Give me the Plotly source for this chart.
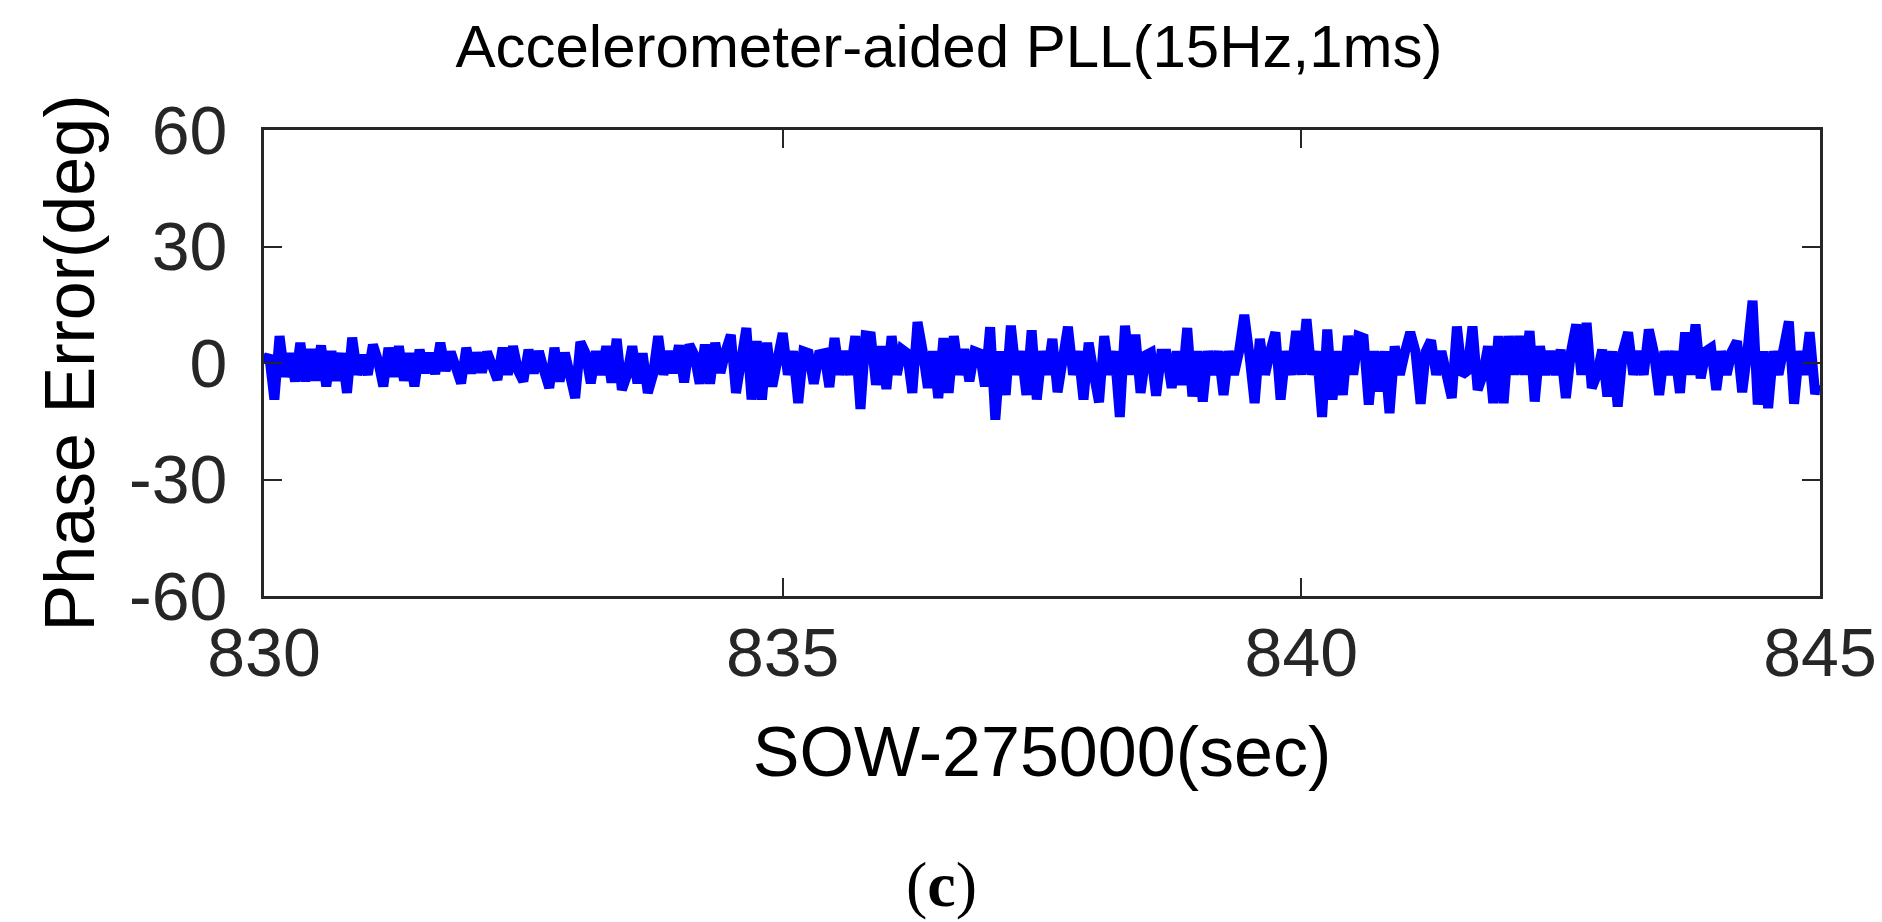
import plotly.graph_objects as go

# Phase error samples, one every 50 ms starting at 830 s
t_start = 830.0
t_step = 0.05
phase_err = [
    0.0, 2.0, -9.4, 6.9, -3.5, 2.5, -4.7, 5.2, -4.7, 3.5,
    -4.5, 4.5, -6.0, 3.0, -4.5, 2.5, -7.7, 6.5, -3.0, 2.0,
    -3.0, 4.7, 0.5, -6.0, 3.9, -3.5, 4.3, -4.5, 2.5, -6.0,
    3.4, -2.5, 2.5, -2.8, 5.2, -2.0, 2.8, -1.5, -5.2, 3.9,
    -2.6, 2.6, -2.4, 2.8, -1.0, -4.3, 3.9, -3.0, 4.3, -2.0,
    -4.7, 3.4, -2.6, 3.0, -2.0, -6.4, 3.9, -4.7, 2.6, -2.5,
    -9.0, 5.4, 2.5, -5.2, 3.0, -3.0, 4.3, -5.0, 6.2, -6.9,
    -3.0, 4.3, -5.2, 2.5, -7.7, -3.0, 6.9, -3.0, 3.0, -2.5,
    4.5, -5.0, 4.7, 2.0, -5.3, 4.7, -5.3, 5.2, -2.5, 3.0,
    7.2, -7.7, 3.0, 9.0, -9.4, 5.6, -9.4, 5.2, -6.0, 3.0,
    7.7, -3.0, 3.0, -10.3, 3.0, 2.5, -5.3, 2.2, 2.5, -6.2,
    6.4, -3.0, 3.0, -3.0, 6.9, -11.8, 7.1, 6.9, -5.6, 4.3,
    -6.7, 6.9, -3.0, 3.5, 2.5, -7.7, 10.5, 3.0, -6.4, 3.0,
    -9.0, 6.4, -7.7, 6.9, -3.0, 3.5, -4.7, 3.0, 2.5, -6.0,
    9.2, -14.6, 3.0, -8.2, 9.6, -3.0, 3.0, -8.2, 8.4, -9.4,
    3.0, -3.0, 6.2, -7.5, 3.0, 9.3, -3.0, 3.0, -9.4, 5.2,
    -3.0, -10.1, 6.9, -3.0, 3.0, -13.9, 9.6, -3.0, 7.3, -7.7,
    2.0, 2.7, -8.4, 2.4, 2.4, -6.4, 3.0, -5.6, 9.0, -8.6,
    3.0, -9.9, 3.0, -3.0, 3.0, -8.2, 3.0, -3.0, 3.0, 12.4,
    2.0, -10.3, 6.2, -3.0, 3.0, 7.9, -9.4, 3.0, -3.0, 8.2,
    -3.0, 11.3, -3.0, 3.0, -13.9, 8.6, -9.4, 3.0, -8.2, 7.0,
    -3.0, 6.9, 6.4, -10.7, 3.0, -7.3, 3.0, -12.9, 4.3, -3.0,
    3.0, 7.9, 3.0, -10.5, 3.0, 5.8, -3.0, 3.0, -3.0, -9.0,
    9.4, -3.0, -2.0, 9.4, -6.9, -3.0, 4.3, -10.3, 6.9, -10.3,
    6.9, -3.0, 6.9, -3.0, 8.2, -9.9, 4.3, -3.0, 3.0, -3.0,
    3.4, -9.0, 3.0, 9.9, -3.0, 10.3, -6.4, -3.0, 3.4, -8.6,
    3.0, -11.2, 3.0, 7.9, -3.0, 3.0, -3.0, 8.6, 2.5, -8.2,
    3.0, -3.0, 3.0, -7.7, 7.9, -3.0, 9.9, -3.9, 3.0, 3.9,
    -6.9, 3.0, -3.0, 3.0, 5.6, -7.5, 3.0, 16.0, -10.7, 3.0,
    -11.6, 3.0, -3.0, 3.0, 10.7, -10.5, 3.0, -3.0, 7.9, -6.9,
    -7.0,
]

x_ticks = [830, 835, 840, 845]
y_ticks = [-60, -30, 0, 30, 60]

axis_color = '#262626'

fig = go.Figure()

fig.add_trace(go.Scatter(
    x0=t_start,
    dx=t_step,
    y=phase_err,
    mode='lines',
    line=dict(color='#0000ff', width=10),
    showlegend=False,
))

axis_style = dict(
    showline=True,
    linewidth=3,
    linecolor=axis_color,
    mirror='ticks',
    ticks='inside',
    ticklen=18,
    tickwidth=2,
    tickcolor=axis_color,
    showgrid=False,
    zeroline=False,
    tickfont=dict(size=68, color=axis_color),
)

fig.update_xaxes(
    range=[830, 845],
    tickvals=x_ticks,
    ticktext=[str(v) for v in x_ticks],
    title=dict(text='SOW-275000(sec)', font=dict(size=70, color='black'), standoff=39),
    ticklabelstandoff=-5,
    **axis_style
)
fig.update_yaxes(
    range=[-60, 60],
    tickvals=y_ticks,
    ticktext=[str(v) for v in y_ticks],
    title=dict(text='Phase Error(deg)', font=dict(size=70, color='black'), standoff=12),
    ticklabelstandoff=20,
    **axis_style
)

# panel label under the chart
fig.add_annotation(
    text='(<b>c</b>)',
    xref='paper', yref='paper',
    x=0.4355, y=-0.62,
    xanchor='center', yanchor='middle',
    showarrow=False,
    font=dict(family='Liberation Serif, Times New Roman, serif', size=64, color='black'),
)

fig.update_layout(
    width=1882,
    height=922,
    margin=dict(l=256, r=70, t=122, b=334),
    paper_bgcolor='white',
    plot_bgcolor='white',
    font=dict(family='Liberation Sans, Arial, sans-serif', color='black'),
    title=dict(
        text='Accelerometer-aided PLL(15Hz,1ms)',
        font=dict(size=60, color='black'),
        x=0.5, xref='container', xanchor='center',
        y=0.959, yref='container', yanchor='middle',
    ),
)

fig.write_html("out.html")
